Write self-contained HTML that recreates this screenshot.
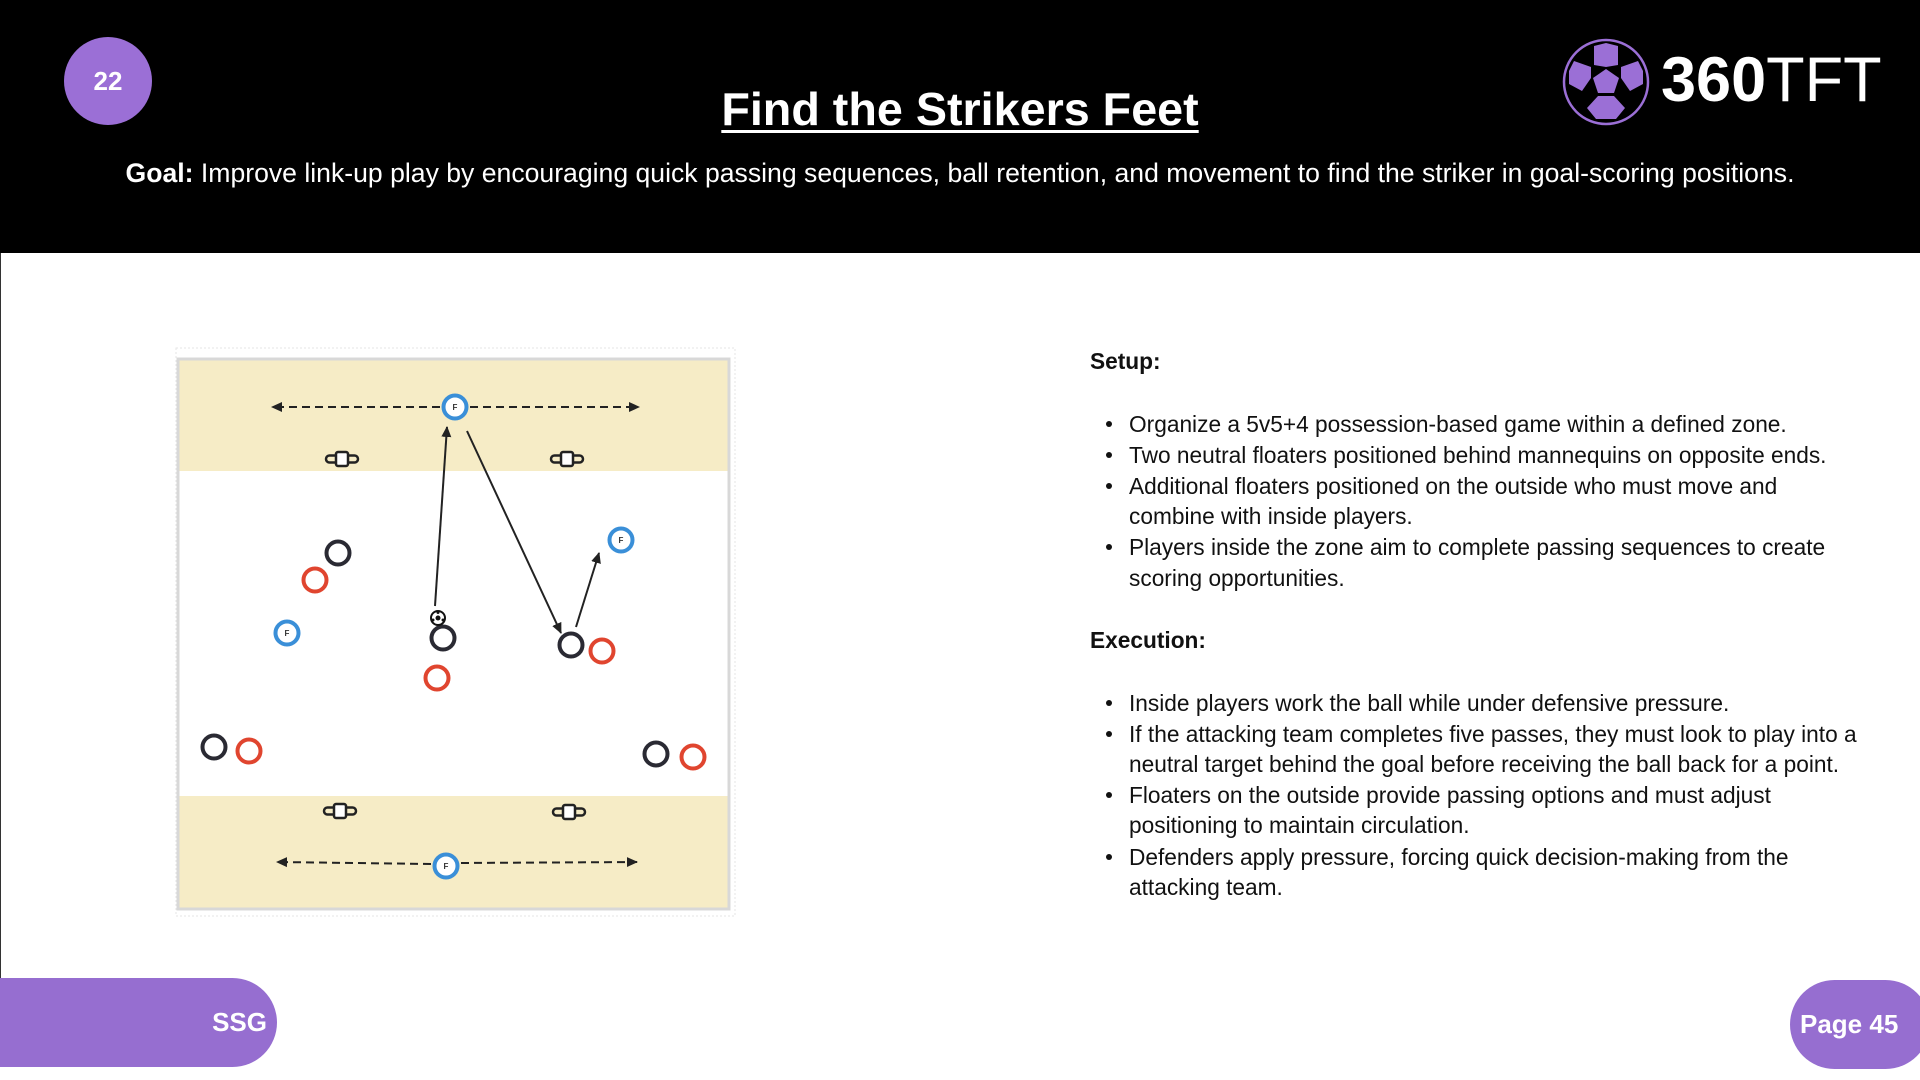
<!DOCTYPE html>
<html><head><meta charset="utf-8"><style>
body{margin:0;width:1920px;height:1080px;background:#fff;position:relative;overflow:hidden;font-family:"Liberation Sans",sans-serif}
.hdr{position:absolute;left:0;top:0;width:1920px;height:253px;background:#000}
.abs{position:absolute;white-space:nowrap}
.t{font-size:22.7px;color:#111;line-height:30px}
.b{position:absolute;left:1106px;width:6px;height:6px;border-radius:50%;background:#111}
</style></head><body>
<div class="hdr"></div>
<div class="abs" style="left:64px;top:37px;width:88px;height:88px;border-radius:50%;background:#9b6fd6;color:#fff;font-weight:bold;font-size:26px;line-height:88px;text-align:center">22</div>
<div class="abs" style="left:0;width:1920px;top:82px;text-align:center;color:#fff;font-weight:bold;font-size:46.7px;text-decoration:underline;text-decoration-thickness:3px;text-underline-offset:5px">Find the Strikers Feet</div>
<div class="abs" style="left:0;width:1920px;top:158px;text-align:center;color:#fff;font-size:26.6px"><b>Goal:</b> Improve link-up play by encouraging quick passing sequences, ball retention, and movement to find the striker in goal-scoring positions.</div>
<svg class="abs" style="left:1560px;top:36px" width="92" height="92" viewBox="0 0 92 92">
<circle cx="46" cy="46" r="42" fill="none" stroke="#9b6fd6" stroke-width="2.5"/>
<circle cx="46" cy="46" r="38" fill="#000"/>
<polygon points="46,33 59,42 54,57 38,57 33,42" fill="#9b6fd6"/>
<polygon points="34,10 46,7 58,10 58,29 46,31 34,29" fill="#9b6fd6"/>
<polygon points="14,25 31,31 31,42 22,55 9,48 9,35" fill="#9b6fd6"/>
<polygon points="78,25 61,31 61,42 70,55 83,48 83,35" fill="#9b6fd6"/>
<polygon points="38,60 54,60 65,72 56,83 36,83 27,72" fill="#9b6fd6"/>
</svg>
<div class="abs" style="left:1661px;top:44px;color:#fff;font-size:63px;line-height:72px"><b>360</b>TFT</div>
<div class="abs" style="left:0;top:253px;width:1px;height:726px;background:#333"></div>

<svg class="abs" style="left:0;top:0" width="760" height="960">
<defs><marker id="a" markerWidth="12" markerHeight="12" refX="10" refY="6" orient="auto" markerUnits="userSpaceOnUse"><path d="M0,1 L11,6 L0,11z" fill="#222"/></marker></defs>
<rect x="176" y="348" width="559" height="568" fill="none" stroke="#e6e6e6" stroke-dasharray="2,2"/>
<rect x="178" y="359" width="551" height="550" fill="#fff"/>
<rect x="178" y="359" width="551" height="112" fill="#f6ecc6"/>
<rect x="178" y="796" width="551" height="113" fill="#f6ecc6"/>
<rect x="178" y="359" width="551" height="550" fill="none" stroke="#d8d8d8" stroke-width="3"/>
<g stroke="#222" stroke-width="2" fill="none">
<line x1="440" y1="407" x2="272" y2="407" stroke-dasharray="8,5" marker-end="url(#a)"/>
<line x1="470" y1="407" x2="639" y2="407" stroke-dasharray="8,5" marker-end="url(#a)"/>
<line x1="431" y1="864" x2="277" y2="862" stroke-dasharray="8,5" marker-end="url(#a)"/>
<line x1="461" y1="863" x2="637" y2="862" stroke-dasharray="8,5" marker-end="url(#a)"/>
<line x1="435" y1="606" x2="447" y2="427" marker-end="url(#a)"/>
<line x1="467" y1="431" x2="561" y2="633" marker-end="url(#a)"/>
<line x1="576" y1="627" x2="599" y2="553" marker-end="url(#a)"/>
</g>
<g fill="none" stroke="#222" stroke-width="2.5">
<g transform="translate(342,459)"><rect x="-16" y="-3.5" width="32" height="7" rx="3.5"/><rect x="-6" y="-7" width="12" height="14" rx="2" fill="#fff"/></g>
<g transform="translate(567,459)"><rect x="-16" y="-3.5" width="32" height="7" rx="3.5"/><rect x="-6" y="-7" width="12" height="14" rx="2" fill="#fff"/></g>
<g transform="translate(340,811)"><rect x="-16" y="-3.5" width="32" height="7" rx="3.5"/><rect x="-6" y="-7" width="12" height="14" rx="2" fill="#fff"/></g>
<g transform="translate(569,812)"><rect x="-16" y="-3.5" width="32" height="7" rx="3.5"/><rect x="-6" y="-7" width="12" height="14" rx="2" fill="#fff"/></g>
</g>
<g fill="#fff" stroke-width="4">
<circle cx="338" cy="553" r="11.5" stroke="#2a2a33"/><circle cx="315" cy="580" r="11.5" stroke="#e0452f"/>
<circle cx="443" cy="638" r="11.5" stroke="#2a2a33"/><circle cx="437" cy="678" r="11.5" stroke="#e0452f"/>
<circle cx="571" cy="645" r="11.5" stroke="#2a2a33"/><circle cx="602" cy="651" r="11.5" stroke="#e0452f"/>
<circle cx="214" cy="747" r="11.5" stroke="#2a2a33"/><circle cx="249" cy="751" r="11.5" stroke="#e0452f"/>
<circle cx="656" cy="754" r="11.5" stroke="#2a2a33"/><circle cx="693" cy="757" r="11.5" stroke="#e0452f"/>
<circle cx="455" cy="407" r="11.5" stroke="#3a8fd8"/><circle cx="446" cy="866" r="11.5" stroke="#3a8fd8"/>
<circle cx="621" cy="540" r="11.5" stroke="#3a8fd8"/><circle cx="287" cy="633" r="11.5" stroke="#3a8fd8"/>
</g>
<g font-size="8" font-weight="bold" fill="#333" text-anchor="middle" font-family="Liberation Sans">
<text x="455" y="410">F</text><text x="446" y="869">F</text><text x="621" y="543">F</text><text x="287" y="636">F</text>
</g>
<circle cx="438" cy="618" r="7" fill="#fff" stroke="#111" stroke-width="2"/>
<g fill="#111"><circle cx="438" cy="618" r="2.5"/><circle cx="438" cy="612.5" r="1.5"/><circle cx="443" cy="620" r="1.5"/><circle cx="433" cy="620" r="1.5"/></g>
</svg>

<div class="abs t" style="left:1090px;top:346px;font-weight:bold">Setup:</div>
<div class="b" style="top:421px"></div><div class="abs t" style="left:1129px;top:409px">Organize a 5v5+4 possession-based game within a defined zone.</div>
<div class="b" style="top:452px"></div><div class="abs t" style="left:1129px;top:440px">Two neutral floaters positioned behind mannequins on opposite ends.</div>
<div class="b" style="top:483px"></div><div class="abs t" style="left:1129px;top:471px">Additional floaters positioned on the outside who must move and</div>
<div class="abs t" style="left:1129px;top:501px">combine with inside players.</div>
<div class="b" style="top:544px"></div><div class="abs t" style="left:1129px;top:532px">Players inside the zone aim to complete passing sequences to create</div>
<div class="abs t" style="left:1129px;top:563px">scoring opportunities.</div>
<div class="abs t" style="left:1090px;top:625px;font-weight:bold">Execution:</div>
<div class="b" style="top:700px"></div><div class="abs t" style="left:1129px;top:688px">Inside players work the ball while under defensive pressure.</div>
<div class="b" style="top:731px"></div><div class="abs t" style="left:1129px;top:719px">If the attacking team completes five passes, they must look to play into a</div>
<div class="abs t" style="left:1129px;top:749px">neutral target behind the goal before receiving the ball back for a point.</div>
<div class="b" style="top:792px"></div><div class="abs t" style="left:1129px;top:780px">Floaters on the outside provide passing options and must adjust</div>
<div class="abs t" style="left:1129px;top:810px">positioning to maintain circulation.</div>
<div class="b" style="top:854px"></div><div class="abs t" style="left:1129px;top:842px">Defenders apply pressure, forcing quick decision-making from the</div>
<div class="abs t" style="left:1129px;top:872px">attacking team.</div>

<div class="abs" style="left:0;top:978px;width:277px;height:89px;background:#966ed0;border-radius:0 45px 45px 0"></div>
<div class="abs" style="left:0;width:267px;top:1007px;text-align:right;color:#fff;font-weight:bold;font-size:26px">SSG</div>
<div class="abs" style="left:1790px;top:980px;width:140px;height:89px;background:#966ed0;border-radius:45px"></div>
<div class="abs" style="left:1800px;top:1009px;color:#fff;font-weight:bold;font-size:26px">Page 45</div>
</body></html>
